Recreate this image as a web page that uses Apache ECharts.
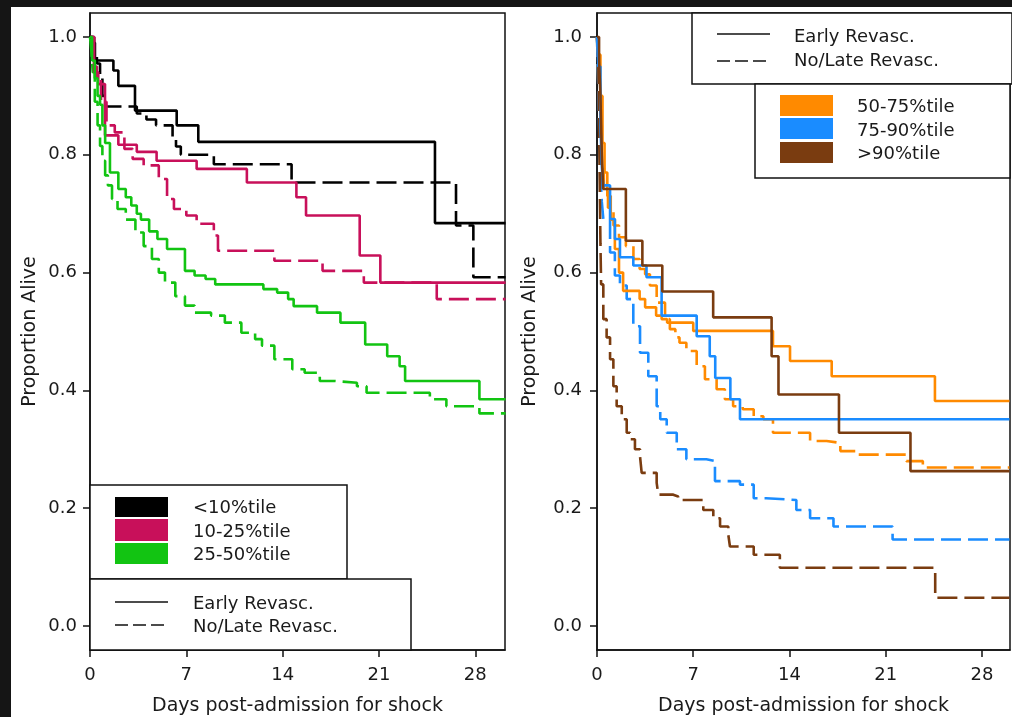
<!DOCTYPE html>
<html>
<head>
<meta charset="utf-8">
<script src="https://cdn.jsdelivr.net/npm/echarts@6/dist/echarts.min.js"></script>
<style>
html,body{margin:0;padding:0;background:#fff;}
#c{width:1012px;height:717px;}
</style>
</head>
<body>
<div id="c"></div>
<script>
// ---- Data (days, proportion alive) ----
const xTicks = [0, 7, 14, 21, 28];
const yTicks = [0, 0.2, 0.4, 0.6, 0.8, 1.0];

const groupsLeft = ['<10%tile', '10-25%tile', '25-50%tile'];
const groupsRight = ['50-75%tile', '75-90%tile', '>90%tile'];
const strategies = ['Early Revasc.', 'No/Late Revasc.'];

// Left panel
const lt10Early = [[0,1],[0.2,0.99],[0.36,0.96],[1.7,0.943],[2.06,0.917],[3.27,0.875],[6.3,0.85],[7.87,0.822],[25.07,0.684],[30.2,0.684]];
const lt10Late = [[0,1],[0.3,0.975],[0.5,0.955],[0.73,0.93],[0.9,0.9],[1.1,0.882],[3.4,0.87],[4.1,0.86],[4.8,0.85],[6.0,0.83],[6.25,0.814],[6.6,0.8],[9.0,0.784],[14.65,0.753],[26.6,0.68],[27.86,0.592],[30.2,0.592]];
const p1025Early = [[0,1],[0.3,0.94],[0.6,0.92],[1.09,0.833],[2.06,0.817],[3.4,0.805],[4.84,0.79],[7.75,0.776],[11.4,0.753],[15.0,0.728],[15.7,0.697],[19.6,0.629],[21.1,0.583],[30.2,0.583]];
const p1025Late = [[0,1],[0.3,0.95],[0.5,0.93],[0.8,0.89],[1.2,0.85],[1.8,0.838],[2.5,0.81],[3.1,0.793],[3.9,0.782],[5.0,0.759],[5.6,0.725],[6.1,0.708],[7.0,0.697],[7.75,0.683],[9.0,0.663],[9.3,0.637],[13.4,0.62],[16.9,0.603],[19.9,0.583],[25.2,0.555],[30.2,0.555]];
const p2550Early = [[0,1],[0.15,0.96],[0.35,0.93],[0.55,0.9],[0.73,0.885],[0.9,0.85],[1.1,0.82],[1.45,0.77],[2.06,0.742],[2.6,0.728],[3.0,0.714],[3.4,0.7],[3.7,0.69],[4.3,0.67],[4.9,0.657],[5.6,0.64],[6.9,0.603],[7.6,0.595],[8.4,0.589],[9.1,0.58],[12.6,0.572],[13.6,0.566],[14.4,0.555],[14.8,0.543],[16.5,0.532],[18.2,0.515],[20.0,0.478],[21.6,0.458],[22.5,0.441],[22.9,0.416],[28.3,0.385],[30.2,0.385]];
const p2550Late = [[0,1],[0.1,0.975],[0.2,0.94],[0.35,0.89],[0.55,0.85],[0.73,0.815],[0.9,0.79],[1.1,0.765],[1.3,0.748],[1.6,0.725],[2.0,0.708],[2.6,0.69],[3.3,0.668],[3.9,0.645],[4.5,0.623],[5.0,0.6],[5.45,0.583],[6.2,0.56],[6.9,0.544],[7.6,0.532],[8.8,0.527],[9.8,0.515],[11.0,0.498],[12.0,0.487],[12.5,0.476],[13.4,0.453],[14.7,0.436],[15.6,0.43],[16.7,0.416],[17.8,0.413],[19.4,0.407],[20.1,0.396],[24.7,0.385],[25.9,0.373],[28.3,0.361],[30.2,0.361]];

// Right panel
const p5075Early = [[0,1],[0.1,0.97],[0.25,0.9],[0.4,0.82],[0.55,0.77],[0.75,0.73],[1.0,0.69],[1.3,0.64],[1.6,0.6],[1.9,0.569],[3.1,0.555],[3.5,0.541],[4.3,0.527],[4.7,0.521],[5.1,0.515],[7.0,0.501],[12.8,0.475],[14.04,0.45],[17.07,0.424],[24.58,0.382],[30,0.382]];
const p5075Late = [[0,1],[0.08,0.93],[0.2,0.85],[0.35,0.78],[0.5,0.74],[0.8,0.71],[1.2,0.68],[1.6,0.66],[2.1,0.645],[2.65,0.623],[3.1,0.606],[3.5,0.597],[3.85,0.578],[4.34,0.549],[4.95,0.521],[5.3,0.504],[5.7,0.49],[6.0,0.481],[6.5,0.467],[7.25,0.441],[7.85,0.419],[8.7,0.402],[9.3,0.385],[9.9,0.373],[10.6,0.368],[11.4,0.356],[12.1,0.351],[12.8,0.328],[15.5,0.314],[16.7,0.311],[17.7,0.297],[18.9,0.291],[22.5,0.28],[23.7,0.269],[30,0.269]];
const p7590Early = [[0,1],[0.1,0.95],[0.25,0.85],[0.35,0.78],[0.45,0.748],[0.95,0.691],[1.3,0.657],[1.67,0.626],[2.64,0.612],[3.6,0.592],[4.7,0.527],[7.25,0.492],[8.2,0.458],[8.6,0.421],[9.7,0.385],[10.4,0.351],[30,0.351]];
const p7590Late = [[0,1],[0.08,0.93],[0.15,0.85],[0.25,0.77],[0.35,0.72],[0.46,0.691],[0.95,0.634],[1.3,0.595],[1.67,0.578],[2.16,0.555],[2.64,0.509],[3.13,0.464],[3.73,0.424],[4.34,0.373],[4.6,0.351],[5.07,0.328],[5.8,0.3],[6.5,0.283],[7.96,0.28],[8.58,0.246],[10.4,0.24],[11.4,0.217],[12.3,0.214],[14.5,0.197],[15.5,0.183],[17.2,0.169],[21.5,0.147],[30,0.147]];
const p90Early = [[0,1],[0.15,0.96],[0.25,0.9],[0.35,0.8],[0.45,0.742],[2.1,0.654],[3.3,0.612],[4.75,0.568],[8.45,0.524],[12.7,0.458],[13.2,0.393],[17.6,0.328],[22.8,0.263],[30,0.263]];
const p90Late = [[0,1],[0.1,0.95],[0.15,0.85],[0.2,0.75],[0.25,0.65],[0.3,0.58],[0.46,0.521],[0.7,0.49],[0.95,0.453],[1.19,0.407],[1.43,0.373],[1.8,0.351],[2.16,0.328],[2.4,0.317],[2.76,0.3],[3.13,0.288],[3.25,0.26],[4.34,0.243],[4.46,0.223],[5.55,0.22],[5.9,0.214],[7.73,0.197],[8.46,0.183],[8.95,0.169],[9.55,0.155],[9.67,0.135],[11.4,0.121],[13.3,0.099],[24.6,0.048],[30,0.048]];

// ---- Styling ----
const FONT = 'DejaVu Sans';
const TXT = '#1a1a1a';
const colorsLeft = ['#000000', '#c8105a', '#12c412'];
const colorsRight = ['#ff8a00', '#1a8cff', '#7a3c10'];
const DASH = [20, 7];

function mk(name, data, color, dashed, idx) {
  return {
    name: name, type: 'line', step: 'end', data: data,
    xAxisIndex: idx, yAxisIndex: idx, symbol: 'none', silent: true,
    lineStyle: { color: color, width: 2.6, type: dashed ? DASH : 'solid' },
    z: dashed ? 3 : 4
  };
}

const series = [
  mk(groupsLeft[0] + ' ' + strategies[0], lt10Early, colorsLeft[0], false, 0),
  mk(groupsLeft[0] + ' ' + strategies[1], lt10Late, colorsLeft[0], true, 0),
  mk(groupsLeft[1] + ' ' + strategies[0], p1025Early, colorsLeft[1], false, 0),
  mk(groupsLeft[1] + ' ' + strategies[1], p1025Late, colorsLeft[1], true, 0),
  mk(groupsLeft[2] + ' ' + strategies[0], p2550Early, colorsLeft[2], false, 0),
  mk(groupsLeft[2] + ' ' + strategies[1], p2550Late, colorsLeft[2], true, 0),
  mk(groupsRight[0] + ' ' + strategies[0], p5075Early, colorsRight[0], false, 1),
  mk(groupsRight[0] + ' ' + strategies[1], p5075Late, colorsRight[0], true, 1),
  mk(groupsRight[1] + ' ' + strategies[0], p7590Early, colorsRight[1], false, 1),
  mk(groupsRight[1] + ' ' + strategies[1], p7590Late, colorsRight[1], true, 1),
  mk(groupsRight[2] + ' ' + strategies[0], p90Early, colorsRight[2], false, 1),
  mk(groupsRight[2] + ' ' + strategies[1], p90Late, colorsRight[2], true, 1)
];

function xAx(idx, max) {
  return {
    type: 'value', gridIndex: idx, min: 0, max: max,
    name: 'Days post-admission for shock', nameLocation: 'middle', nameGap: 47,
    nameTextStyle: { fontFamily: FONT, fontSize: 19, color: TXT },
    axisLine: { show: true, onZero: false, lineStyle: { color: '#111', width: 1.5 } },
    axisTick: { show: true, inside: false, length: 7, lineStyle: { color: '#111', width: 1.5 }, customValues: xTicks },
    axisLabel: { fontFamily: FONT, fontSize: 18, color: TXT, margin: 16, customValues: xTicks },
    splitLine: { show: false }
  };
}
function yAx(idx, gap, lmargin) {
  return {
    type: 'value', gridIndex: idx, min: -0.0407, max: 1.0407,
    name: 'Proportion Alive', nameLocation: 'middle', nameGap: gap, nameRotate: 90,
    nameTextStyle: { fontFamily: FONT, fontSize: 19, color: TXT },
    axisLine: { show: true, onZero: false, lineStyle: { color: '#111', width: 1.5 } },
    axisTick: { show: true, inside: false, length: 7, lineStyle: { color: '#111', width: 1.5 }, customValues: yTicks },
    axisLabel: { fontFamily: FONT, fontSize: 18, color: TXT, margin: lmargin, customValues: yTicks,
      formatter: function (v) { return v.toFixed(1); } },
    splitLine: { show: false }
  };
}

// ---- Legend graphics (boxes, swatches, line samples) ----
const G = [];
function box(x, y, w, h) {
  G.push({ type: 'rect', z: 100, shape: { x: x, y: y, width: w, height: h },
    style: { fill: '#fff', stroke: '#111', lineWidth: 1.5 } });
}
function sw(x, y, w, h, c) {
  G.push({ type: 'rect', z: 101, shape: { x: x, y: y, width: w, height: h }, style: { fill: c, stroke: null } });
}
function ln(x1, x2, y, dashed) {
  G.push({ type: 'line', z: 101, shape: { x1: x1, y1: y, x2: x2, y2: y },
    style: { stroke: '#111', lineWidth: 1.6, lineDash: dashed ? [13, 5] : null } });
}
function tx(x, y, t) {
  G.push({ type: 'text', z: 102, x: x, y: y,
    style: { text: t, fill: TXT, font: '18px "' + FONT + '"', textAlign: 'left', textVerticalAlign: 'middle', align: 'left', verticalAlign: 'middle' } });
}
// left legends
box(90, 485, 257, 94);
sw(115, 497, 53, 20, colorsLeft[0]); sw(115, 519, 53, 22, colorsLeft[1]); sw(115, 543, 53, 21, colorsLeft[2]);
tx(193, 508, groupsLeft[0]); tx(193, 532, groupsLeft[1]); tx(193, 555, groupsLeft[2]);
box(90, 579, 321, 71);
ln(115, 168, 602, false); ln(115, 168, 625, true);
tx(193, 604, strategies[0]); tx(193, 627, strategies[1]);
// right legends
box(692, 13, 320, 71);
ln(717, 770, 34, false); ln(717, 770, 61, true);
tx(794, 37, strategies[0]); tx(794, 61, strategies[1]);
box(755, 84, 255, 94);
sw(780, 95, 53, 21, colorsRight[0]); sw(780, 118, 53, 21, colorsRight[1]); sw(780, 142, 53, 21, colorsRight[2]);
tx(857, 107, groupsRight[0]); tx(857, 131, groupsRight[1]); tx(857, 154, groupsRight[2]);
// dark frame strips at the top and left edges
G.push({ type: 'rect', z: 200, shape: { x: 0, y: 0, width: 1012, height: 7 }, style: { fill: '#151515' } });
G.push({ type: 'rect', z: 200, shape: { x: 0, y: 0, width: 11, height: 717 }, style: { fill: '#151515' } });

const chart = echarts.init(document.getElementById('c'), null, { renderer: 'canvas' });
chart.setOption({
  animation: false,
  backgroundColor: '#ffffff',
  grid: [
    { left: 90, top: 13, width: 415, height: 637, show: true, borderColor: '#111', borderWidth: 1.5, backgroundColor: 'transparent', outerBoundsMode: 'none', containLabel: false },
    { left: 597, top: 13, width: 413, height: 637, show: true, borderColor: '#111', borderWidth: 1.5, backgroundColor: 'transparent', outerBoundsMode: 'none', containLabel: false }
  ],
  xAxis: [xAx(0, 30.16), xAx(1, 30.04)],
  yAxis: [yAx(0, 50, 13), yAx(1, 57, 15)],
  series: series,
  graphic: G
});
</script>
</body>
</html>
